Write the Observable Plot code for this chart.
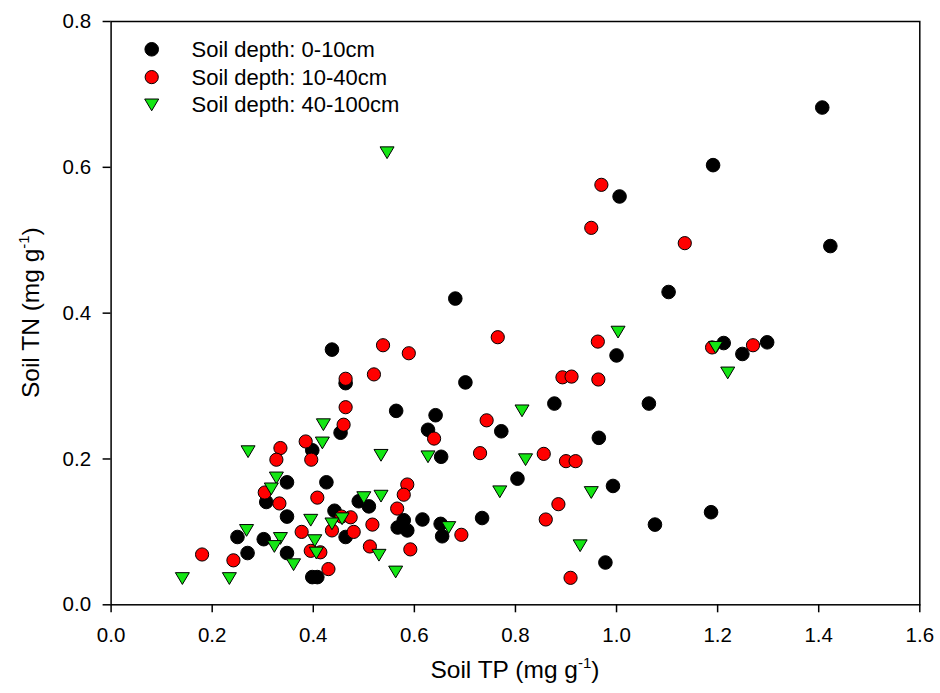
<!DOCTYPE html>
<html>
<head>
<meta charset="utf-8">
<script src="https://cdn.jsdelivr.net/npm/d3@7"></script>
<script src="https://cdn.jsdelivr.net/npm/@observablehq/plot@0.6"></script>
<style>
  html, body { margin: 0; padding: 0; background: #fff; }
  svg { display: block; }
</style>
</head>
<body>
<script>
// ---- Data ----
const seriesNames = ["Soil depth: 0-10cm", "Soil depth: 10-40cm", "Soil depth: 40-100cm"];

const tp0_10 = [0.464,0.454,0.398,0.348,0.307,0.426,0.348,0.442,0.464,0.250,0.270,0.302,0.348,0.398,0.408,
  0.437,0.564,0.701,0.642,0.627,0.653,0.772,0.804,0.734,0.490,0.510,0.579,0.567,0.586,0.616,0.652,0.655,
  0.877,1.064,0.965,0.993,1.076,0.978,1.000,1.103,1.407,1.191,1.423,1.212,1.249,1.298,1.187,1.006,0.681];
const tn0_10 = [0.304,0.236,0.212,0.168,0.141,0.168,0.121,0.129,0.093,0.093,0.071,0.090,0.071,0.038,0.038,
  0.350,0.266,0.305,0.260,0.240,0.203,0.238,0.173,0.119,0.142,0.135,0.116,0.106,0.102,0.117,0.111,0.094,
  0.276,0.276,0.229,0.163,0.110,0.058,0.342,0.429,0.682,0.603,0.492,0.359,0.344,0.360,0.127,0.560,0.420];

const tp10_40 = [0.464,0.460,0.385,0.396,0.335,0.327,0.304,0.333,0.408,0.437,0.377,0.395,0.414,0.242,0.180,
  0.430,0.456,0.474,0.538,0.589,0.765,0.520,0.464,0.639,0.743,0.730,0.586,0.579,0.566,0.693,0.517,0.480,
  0.512,0.592,0.963,0.893,0.911,0.964,0.856,0.900,0.919,0.885,0.860,0.909,1.135,1.189,1.270,0.970,0.950];
const tn10_40 = [0.271,0.247,0.224,0.199,0.215,0.199,0.154,0.139,0.147,0.102,0.100,0.074,0.072,0.061,0.069,
  0.049,0.121,0.120,0.356,0.345,0.367,0.316,0.310,0.228,0.253,0.208,0.165,0.151,0.132,0.096,0.110,0.100,
  0.080,0.076,0.361,0.312,0.313,0.309,0.207,0.197,0.197,0.138,0.117,0.037,0.496,0.353,0.356,0.576,0.517];

const tp40_100 = [0.420,0.418,0.271,0.327,0.317,0.457,0.437,0.395,0.403,0.406,0.268,0.335,0.323,0.361,0.141,
  0.234,0.534,0.627,0.813,0.820,0.769,0.500,0.534,0.668,0.530,0.563,0.950,0.928,1.003,1.196,1.220,0.546];
const tn40_100 = [0.247,0.222,0.210,0.174,0.159,0.118,0.111,0.116,0.088,0.071,0.102,0.091,0.080,0.055,0.036,
  0.036,0.205,0.203,0.266,0.199,0.155,0.147,0.149,0.106,0.068,0.045,0.154,0.081,0.374,0.353,0.318,0.620];

const xTicks = [0.0,0.2,0.4,0.6,0.8,1.0,1.2,1.4,1.6];
const yTicks = [0.0,0.2,0.4,0.6,0.8];

// ---- Build tables ----
const toRows = (xs, ys) => xs.map((x, i) => ({tp: x, tn: ys[i]}));
const d1 = toRows(tp0_10, tn0_10);
const d2 = toRows(tp10_40, tn10_40);
const d3rows = toRows(tp40_100, tn40_100);

// Downward triangle symbol
const triangleDown = {
  draw(context, size) {
    const r = Math.sqrt(size / Math.PI);
    const w = r * 1.0, h = r * 0.84;
    context.moveTo(-w, -h);
    context.lineTo(w, -h);
    context.lineTo(0, h);
    context.closePath();
  }
};

const GREEN = "#14e614";
const FONT = "'Liberation Sans', Arial, Helvetica, sans-serif";

const W = 940, H = 693;
const mL = 110.6, mR = 20.7, mT = 21, mB = 88.7;

const chart = Plot.plot({
  width: W,
  height: H,
  marginLeft: mL,
  marginRight: mR,
  marginTop: mT,
  marginBottom: mB,
  style: {fontFamily: FONT, fontSize: "20px", color: "black", background: "white"},
  x: {domain: [0, 1.6]},
  y: {domain: [0, 0.8]},
  marks: [
    Plot.axisX({ticks: xTicks, tickSize: 8, tickPadding: 15, strokeWidth: 1.5,
      tickFormat: d => d.toFixed(1), label: null, fontSize: 20.5}),
    Plot.axisY({ticks: yTicks, tickSize: 8, tickPadding: 12, strokeWidth: 1.5,
      tickFormat: d => d.toFixed(1), label: null, fontSize: 20.5}),
    Plot.dot(d1, {x: "tp", y: "tn", r: 6.8, fill: "black", stroke: "black", strokeWidth: 1}),
    Plot.dot(d2, {x: "tp", y: "tn", r: 6.6, fill: "#ff0000", stroke: "black", strokeWidth: 1}),
    Plot.dot(d3rows, {x: "tp", y: "tn", r: 7, symbol: triangleDown, fill: GREEN, stroke: "black", strokeWidth: 1}),
    Plot.frame({stroke: "black", strokeWidth: 1.5})
  ]
});

document.body.appendChild(chart);

// ---- Axis titles with superscripts ----
const svg = d3.select(chart);
const plotCx = mL + (W - mL - mR) / 2;
const plotCy = mT + (H - mT - mB) / 2;

function titleText(sel, base) {
  sel.append("tspan").text(base + " (mg g");
  sel.append("tspan").attr("font-size", "15px").attr("dy", "-10").text("-1");
  sel.append("tspan").attr("dy", "10").text(")");
}

const xt = svg.append("text")
  .attr("x", plotCx).attr("y", 678)
  .attr("text-anchor", "middle")
  .attr("font-family", FONT).attr("font-size", "24.5px").attr("fill", "black");
titleText(xt, "Soil TP");

const yt = svg.append("text")
  .attr("transform", `translate(39,${plotCy}) rotate(-90)`)
  .attr("text-anchor", "middle")
  .attr("font-family", FONT).attr("font-size", "24.5px").attr("fill", "black");
titleText(yt, "Soil TN");

// ---- Legend ----
const legendItems = [
  {name: seriesNames[0], fill: "black", type: d3.symbolCircle, r: 6.8},
  {name: seriesNames[1], fill: "#ff0000", type: d3.symbolCircle, r: 6.6},
  {name: seriesNames[2], fill: GREEN, type: triangleDown, r: 7}
];
const lg = svg.append("g").attr("text-anchor", "start");
legendItems.forEach((it, i) => {
  const cy = 49.3 + i * 27.8;
  lg.append("path")
    .attr("transform", `translate(151.7,${cy})`)
    .attr("d", d3.symbol().type(it.type).size(Math.PI * it.r * it.r)())
    .attr("fill", it.fill).attr("stroke", "black").attr("stroke-width", 1);
  lg.append("text")
    .attr("x", 191.5).attr("y", cy + 7.5)
    .attr("text-anchor", "start")
    .attr("font-family", FONT).attr("font-size", "22px").attr("fill", "black")
    .text(it.name);
});
</script>
</body>
</html>
